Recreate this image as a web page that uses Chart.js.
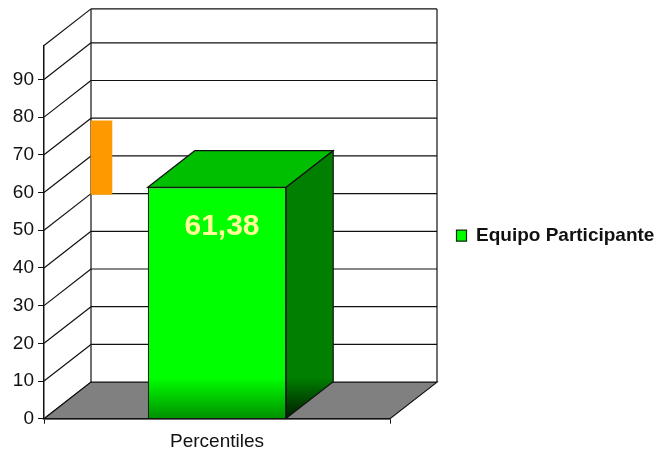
<!DOCTYPE html>
<html>
<head>
<meta charset="utf-8">
<title>Percentiles</title>
<script src="https://cdn.jsdelivr.net/npm/chart.js@4"></script>
<style>
  body { margin: 0; background: #fff; }
  canvas { display: block; }
</style>
</head>
<body>
<canvas id="chart" width="658" height="450"></canvas>
<script>
// Data
const categories = ['Percentiles'];
const teamName = 'Equipo Participante';
const teamValues = [61.38];
const percentileTicks = [0, 10, 20, 30, 40, 50, 60, 70, 80, 90];
const axisMax = 99;
const markerRange = [59.5, 79];   // small orange block on the back wall
const markerPosition = 16.6;      // along the hidden 0-100 wall axis

// Box depth of the 3D look
const depthX = 47;
const depthY = -36.6;

const fontFamily = '"Liberation Sans", Arial, sans-serif';

function bottomShade(chart, from, to) {
  const { top, bottom } = chart.chartArea;
  const grad = chart.ctx.createLinearGradient(0, top, 0, bottom);
  grad.addColorStop(0, from);
  grad.addColorStop(0.89, from);
  grad.addColorStop(1, to);
  return grad;
}

function polygon(ctx, points, fill, stroke) {
  ctx.beginPath();
  points.forEach(([x, y], i) => (i ? ctx.lineTo(x, y) : ctx.moveTo(x, y)));
  ctx.closePath();
  if (fill) {
    ctx.fillStyle = fill;
    ctx.fill();
  }
  if (stroke) {
    ctx.strokeStyle = stroke;
    ctx.lineWidth = 1.2;
    ctx.stroke();
  }
}

function line(ctx, x1, y1, x2, y2) {
  ctx.beginPath();
  ctx.moveTo(x1, y1);
  ctx.lineTo(x2, y2);
  ctx.stroke();
}

// Walls, floor and the sides of the column
const box3d = {
  id: 'box3d',
  beforeDatasetsDraw(chart) {
    const { ctx, chartArea, scales } = chart;
    const { left, right, top, bottom } = chartArea;
    ctx.save();
    ctx.strokeStyle = '#111';
    ctx.lineWidth = 1.2;

    // grid on the left and back walls
    percentileTicks.concat(axisMax).forEach(v => {
      const y = scales.y.getPixelForValue(v);
      line(ctx, left, y, left + depthX, y + depthY);
      if (v > 0) line(ctx, left + depthX, y + depthY, right + depthX, y + depthY);
    });
    line(ctx, left + depthX, top + depthY, left + depthX, bottom + depthY);
    line(ctx, right + depthX, top + depthY, right + depthX, bottom + depthY);

    // floor
    polygon(ctx, [
      [left, bottom],
      [left + depthX, bottom + depthY],
      [right + depthX, bottom + depthY],
      [right, bottom]
    ], '#808080', '#111');

    // column top and side
    const bar = chart.getDatasetMeta(0).data[0];
    const x1 = bar.x - bar.width / 2;
    const x2 = bar.x + bar.width / 2;
    polygon(ctx, [
      [x1, bar.y],
      [x1 + depthX, bar.y + depthY],
      [x2 + depthX, bar.y + depthY],
      [x2, bar.y]
    ], '#00bf00', '#111');
    polygon(ctx, [
      [x2, bar.y],
      [x2 + depthX, bar.y + depthY],
      [x2 + depthX, bar.base + depthY],
      [x2, bar.base]
    ], bottomShade(chart, '#007f00', '#001c00'), '#111');
    ctx.restore();
  },
  afterDatasetsDraw(chart) {
    const { ctx } = chart;
    const bar = chart.getDatasetMeta(0).data[0];
    ctx.save();
    ctx.font = 'bold 30px ' + fontFamily;
    ctx.fillStyle = '#ffff99';
    ctx.textAlign = 'center';
    ctx.textBaseline = 'middle';
    ctx.fillText(teamValues[0].toFixed(2).replace('.', ','), bar.x + 5, bar.y + 39);
    ctx.restore();
  }
};

new Chart(document.getElementById('chart'), {
  type: 'bar',
  data: {
    labels: categories,
    datasets: [
      {
        label: teamName,
        data: teamValues,
        backgroundColor: c => (c.chart.chartArea ? bottomShade(c.chart, '#00ff00', '#009000') : '#00ff00'),
        borderColor: '#0a2a0a',
        borderWidth: 1.2,
        barPercentage: 1,
        categoryPercentage: 0.4,
        grouped: false,
        order: 1
      },
      {
        label: 'marker',
        data: [{ x: markerPosition, y: markerRange }],
        xAxisID: 'xWall',
        backgroundColor: '#ff9900',
        barThickness: 21,
        grouped: false,
        order: 2
      }
    ]
  },
  options: {
    responsive: false,
    animation: false,
    layout: { padding: { top: 45.5 } },
    scales: {
      x: {
        afterFit: s => { s.height = 31.3; },
        border: { color: '#111', width: 1.5 },
        grid: { drawOnChartArea: false, offset: true, color: '#111', tickLength: 5 },
        ticks: { font: { family: fontFamily, size: 19 }, color: '#111', padding: 7 }
      },
      xWall: {
        type: 'linear',
        display: false,
        offset: false,
        min: 0,
        max: 100
      },
      y: {
        min: 0,
        max: axisMax,
        afterBuildTicks: s => { s.ticks = percentileTicks.map(value => ({ value })); },
        afterFit: s => { s.width = 44; },
        border: { color: '#111', width: 1.5 },
        grid: { drawOnChartArea: false, color: '#111', tickLength: 6 },
        ticks: { font: { family: fontFamily, size: 19 }, color: '#111', padding: 4 }
      }
    },
    plugins: {
      tooltip: { enabled: false },
      legend: {
        position: 'right',
        fullSize: false,
        maxWidth: 268,
        title: { display: true, text: ' ', padding: 0, font: { size: 6 } },
        labels: {
          filter: item => item.datasetIndex === 0,
          font: { family: fontFamily, size: 19, weight: 'bold' },
          color: '#111',
          boxWidth: 10,
          boxHeight: 11,
          padding: 66.5
        }
      }
    }
  },
  plugins: [box3d]
});
</script>
</body>
</html>
